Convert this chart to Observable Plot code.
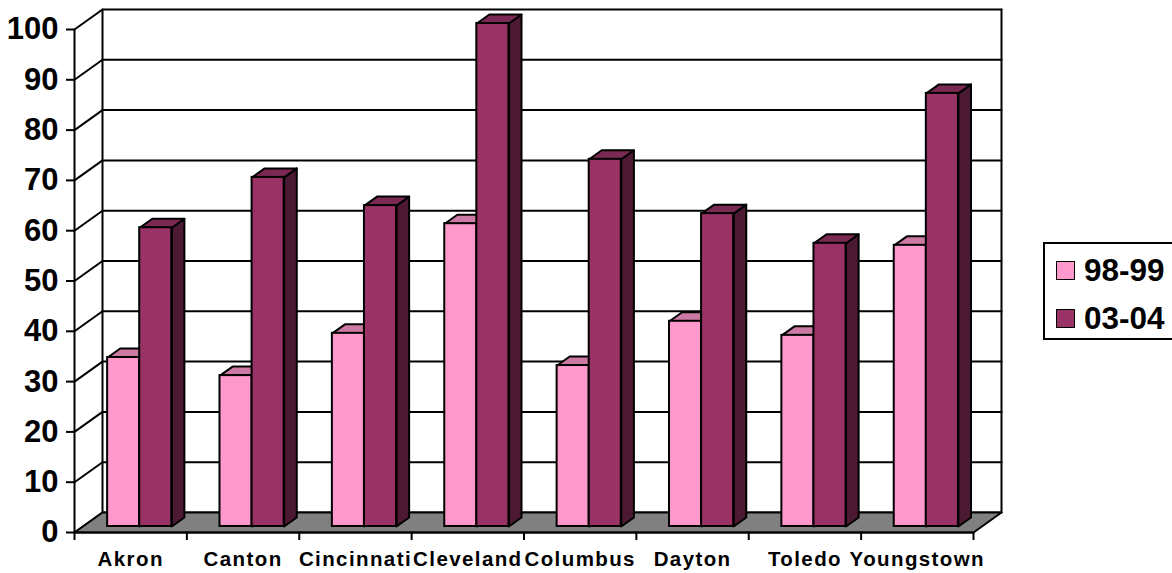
<!DOCTYPE html>
<html>
<head>
<meta charset="utf-8">
<script src="https://cdn.jsdelivr.net/npm/d3@7"></script>
<script src="https://cdn.jsdelivr.net/npm/@observablehq/plot@0.6"></script>
<style>
  html, body { margin: 0; padding: 0; background: #fff; overflow: hidden; width: 1172px; height: 573px; }
  #wrap { position: relative; width: 1172px; height: 573px; font-family: "Liberation Sans", Arial, sans-serif; }
  g[aria-label="text"] text { letter-spacing: 1.4px; }
  #legend { position: absolute; left: 1043px; top: 242px; width: 150px; height: 94px; border: 2px solid #000; box-sizing: content-box; background: #fff; }
  .row { position: absolute; left: 11px; height: 34px; display: flex; align-items: center; font-size: 31.5px; font-weight: bold; color: #000; }
  .sw { width: 17px; height: 17px; border: 1.5px solid #000; margin-right: 9px; display: inline-block; }
</style>
</head>
<body>
<div id="wrap"></div>
<script>
const categories = ["Akron", "Canton", "Cincinnati", "Cleveland", "Columbus", "Dayton", "Toledo", "Youngstown"];
const series9899 = [33.6, 30, 38.4, 60.2, 32, 40.8, 38, 55.9];
const series0304 = [59.4, 69.4, 63.8, 100, 73, 62.2, 56.3, 86.1];
const seriesNames = ["98-99", "03-04"];
const yTicks = d3.range(0, 101, 10);

const colors = {
  "98-99": {front: "#FF99CC", top: "#CC7AA3", side: "#7F4C66"},
  "03-04": {front: "#993366", top: "#7A2952", side: "#4C1933"}
};

// Oblique projection, in data units: depth 0 is the front plane, 1 the back wall.
const W = 899, H = 503;
const DX = 28 / (W / 8), DY = 20 / (H / 100);
const px = (x, d) => x + d * DX;
const py = (y, d) => y + d * DY;

const groupStart = 0.22, barW = 0.2855;
const dFront = 0.3, dBack = 0.75;

const bars = [];
[series9899, series0304].forEach((vals, s) => {
  vals.forEach((v, i) => bars.push({
    series: seriesNames[s],
    cat: categories[i],
    value: v,
    x0: i + groupStart + s * barW,
    x1: i + groupStart + (s + 1) * barW
  }));
});

function poly(id, corners) {
  return [...corners, corners[0]].map(([x, y, d]) => ({id, x: px(x, d), y: py(y, d)}));
}
const topFaces = name => bars.filter(b => b.series === name).flatMap(b =>
  poly(b.cat + "t", [[b.x0, b.value, dFront], [b.x1, b.value, dFront], [b.x1, b.value, dBack], [b.x0, b.value, dBack]]));
const sideFaces = name => bars.filter(b => b.series === name).flatMap(b =>
  poly(b.cat + "s", [[b.x1, 0, dFront], [b.x1, b.value, dFront], [b.x1, b.value, dBack], [b.x1, 0, dBack]]));

const floor = poly("floor", [[0, 0, 0], [8, 0, 0], [8, 0, 1], [0, 0, 1]]);
const gridRows = yTicks.flatMap(v => [
  {id: v, x: px(0, 0), y: py(v, 0)},
  {id: v, x: px(0, 1), y: py(v, 1)},
  {id: v, x: px(8, 1), y: py(v, 1)}
]);
const wallLeft = [{x: px(0, 1), y: py(0, 1)}, {x: px(0, 1), y: py(100, 1)}];
const wallRight = [{x: px(8, 1), y: py(0, 1)}, {x: px(8, 1), y: py(100, 1)}];
const axisFront = [{x: 0, y: 0}, {x: 0, y: 100}];
const axisBase = [{x: 0, y: 0}, {x: 8, y: 0}];

const lineOpts = {x: "x", y: "y", curve: "linear", stroke: "#000", strokeWidth: 2};
const faceMarks = name => [
  Plot.line(sideFaces(name), {...lineOpts, z: "id", fill: colors[name].side, strokeLinejoin: "round"}),
  Plot.line(topFaces(name), {...lineOpts, z: "id", fill: colors[name].top, strokeLinejoin: "round"})
];
const frontMark = name => Plot.rect(bars.filter(b => b.series === name), {
  x1: b => px(b.x0, dFront),
  x2: b => px(b.x1, dFront),
  y1: () => py(0, dFront),
  y2: b => py(b.value, dFront),
  fill: colors[name].front, stroke: "#000", strokeWidth: 2
});

const chart = Plot.plot({
  width: 1172, height: 573,
  marginLeft: 74, marginRight: 199, marginTop: 29, marginBottom: 41,
  style: {fontFamily: "'Liberation Sans', Arial, sans-serif", background: "transparent", color: "#000", overflow: "visible"},
  x: {type: "linear", domain: [0, 8], axis: null},
  y: {type: "linear", domain: [0, 100], axis: null},
  marks: [
    Plot.line(gridRows, {...lineOpts, z: "id"}),
    Plot.line(wallLeft, lineOpts),
    Plot.line(wallRight, lineOpts),
    Plot.line(floor, {...lineOpts, z: "id", fill: "#808080"}),
    Plot.line(axisFront, lineOpts),
    Plot.line(axisBase, lineOpts),
    Plot.axisY({ticks: yTicks, label: null, tickSize: 8, tickPadding: 8, fontSize: 31, fontWeight: "bold", strokeWidth: 2, tickFormat: d3.format("d")}),
    Plot.axisX({ticks: d3.range(0, 9), label: null, tickSize: 8, tickFormat: () => "", strokeWidth: 2}),
    ...faceMarks("98-99"),
    ...faceMarks("03-04"),
    frontMark("98-99"),
    frontMark("03-04"),
    Plot.text(categories, {
      x: (d, i) => i + 0.5,
      text: d => d,
      frameAnchor: "bottom",
      dy: 33,
      fontSize: 20.5,
      fontWeight: "bold",
      fill: "#000"
    })
  ]
});

const wrap = document.getElementById("wrap");
wrap.appendChild(chart);

const legend = document.createElement("div");
legend.id = "legend";
seriesNames.forEach((name, i) => {
  const row = document.createElement("div");
  row.className = "row";
  row.style.top = (i === 0 ? 9 : 57) + "px";
  const sw = document.createElement("span");
  sw.className = "sw";
  sw.style.background = colors[name].front;
  row.appendChild(sw);
  row.appendChild(document.createTextNode(name));
  legend.appendChild(row);
});
wrap.appendChild(legend);
</script>
</body>
</html>
